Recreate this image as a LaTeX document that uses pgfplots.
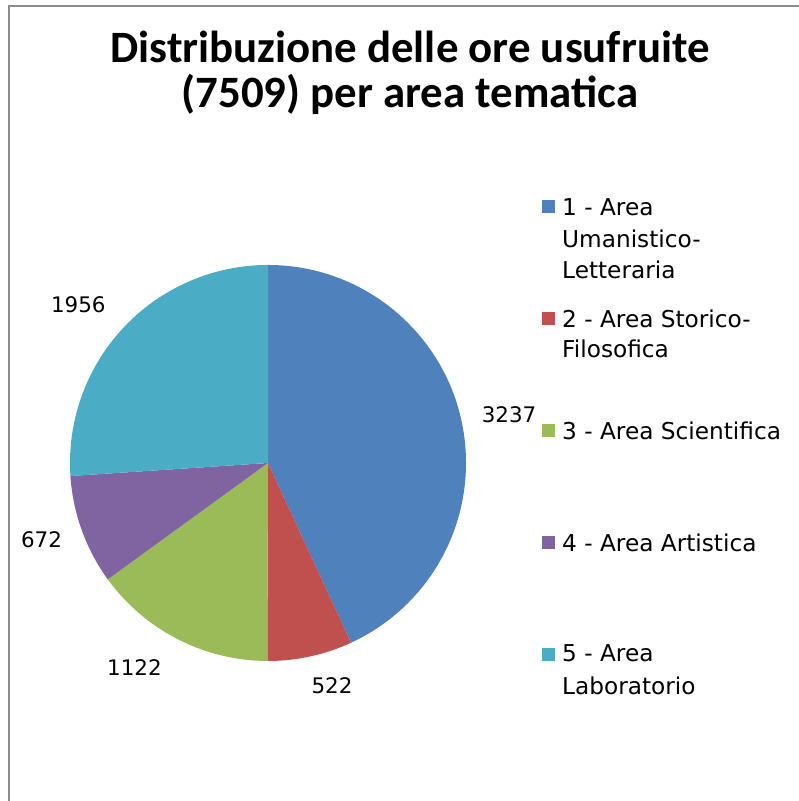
\documentclass[border=0pt]{standalone}
\usepackage{fontspec}
\setmainfont{DejaVu Sans}
\newfontfamily\titlefont{Carlito}
\usepackage{pgfplots}
\usepackage{pgfplotstable}
\pgfplotsset{compat=1.18}

\definecolor{c0}{HTML}{4F81BD}
\definecolor{c1}{HTML}{C0504D}
\definecolor{c2}{HTML}{9BBB59}
\definecolor{c3}{HTML}{8064A2}
\definecolor{c4}{HTML}{4BACC6}
\definecolor{framegray}{HTML}{8C8C8C}

% ore usufruite per area (in senso orario dalle ore 12), con posizione etichetta
\pgfplotstableread{
value lx    ly
3237  509   378
522   332   107
1122  134.5 125
672   41.5  253
1956  78.3  488
}\hours

\newcommand\lblfont{\fontsize{21.5}{24}\selectfont}
\newcommand\legfont{\fontsize{23.3}{26}\selectfont}
\newcommand\ttlfont{\titlefont\bfseries\fontsize{45}{50}\selectfont}
\tikzset{
  legsq/.style={inner sep=0, minimum size=13bp, fill=#1},
  legtx/.style={anchor=base west, inner sep=0, font=\legfont},
}

\begin{document}
\begin{tikzpicture}[x=1bp,y=1bp]
\useasboundingbox (0,0) rectangle (799,801);
\begin{axis}[at={(0,0)}, anchor=south west,
  width=799bp, height=801bp, scale only axis,
  xmin=0, xmax=799, ymin=0, ymax=801,
  hide axis, clip=false]

% cornice
\draw[framegray, line width=2bp] (axis cs:9,0) -- (axis cs:9,795) -- (axis cs:799,795);

% titolo
\node[anchor=base, font=\ttlfont, inner sep=0]
  at (axis cs:410,738) {Distribuzione delle ore usufruite};
\node[anchor=base, font=\ttlfont, inner sep=0]
  at (axis cs:410,693) {(7509) per area tematica};

% totale
\xdef\tothours{0}
\pgfplotstableforeachcolumnelement{value}\of\hours\as\v{%
  \pgfmathparse{\tothours+\v}\xdef\tothours{\pgfmathresult}}

% spicchi
\xdef\cum{0}
\pgfplotsforeachungrouped \i in {0,...,4}{%
  \pgfplotstablegetelem{\i}{value}\of\hours
  \let\v\pgfplotsretval
  \pgfplotstablegetelem{\i}{lx}\of\hours
  \let\lx\pgfplotsretval
  \pgfplotstablegetelem{\i}{ly}\of\hours
  \let\ly\pgfplotsretval
  \pgfmathsetmacro\a{90-360*(\cum/\tothours)}%
  \pgfmathparse{\cum+\v}\xdef\cum{\pgfmathresult}%
  \pgfmathsetmacro\b{90-360*(\cum/\tothours)}%
  \pgfmathtruncatemacro\vv{\v}%
  \edef\temp{%
    \noexpand\fill[c\i] (axis cs:268,338) -- ++(\a:198bp)
      arc[start angle=\a, end angle=\b, radius=198bp] -- cycle;
    \noexpand\node[font=\noexpand\lblfont, inner sep=0, anchor=base]
      at (axis cs:\lx,\ly) {\vv};
  }\temp
}

% legenda
\node[legsq=c0] at (axis cs:548.5,594) {};
\node[legsq=c1] at (axis cs:548.5,482) {};
\node[legsq=c2] at (axis cs:548.5,370.5) {};
\node[legsq=c3] at (axis cs:548.5,258.5) {};
\node[legsq=c4] at (axis cs:548.5,146) {};
\node[legtx] at (axis cs:562,585) {1 - Area};
\node[legtx] at (axis cs:562,553) {Umanistico-};
\node[legtx] at (axis cs:562,522) {Letteraria};
\node[legtx] at (axis cs:562,473) {2 - Area Storico-};
\node[legtx] at (axis cs:562,443) {Filosofica};
\node[legtx] at (axis cs:562,361) {3 - Area Scientifica};
\node[legtx] at (axis cs:562,249) {4 - Area Artistica};
\node[legtx] at (axis cs:562,139) {5 - Area};
\node[legtx] at (axis cs:562,106) {Laboratorio};
\end{axis}
\end{tikzpicture}
\end{document}
